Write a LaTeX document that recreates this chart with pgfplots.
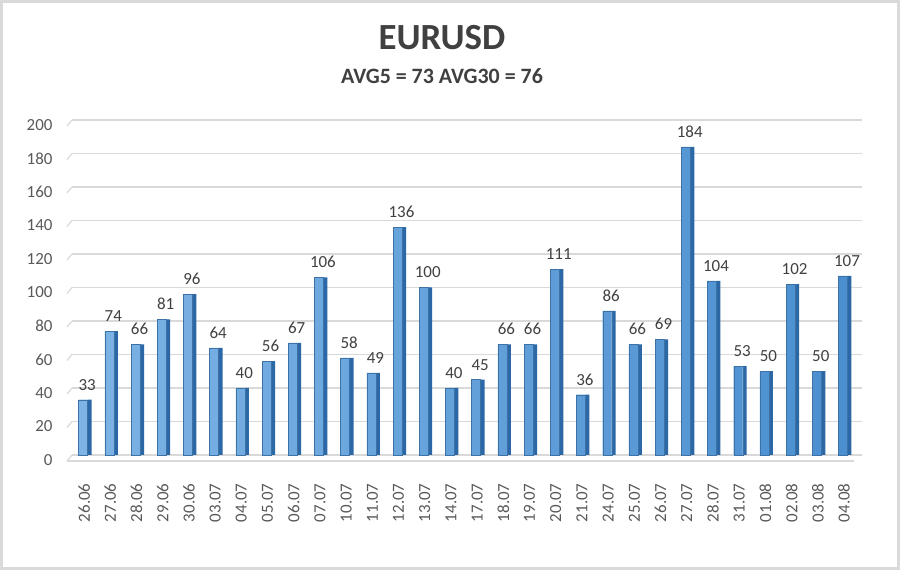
\documentclass[border=0pt]{standalone}
\usepackage{pgfplots}
\pgfplotsset{compat=1.18}
\usepackage{fontspec}
\setmainfont{Carlito}

\definecolor{txtdark}{HTML}{404040}
\definecolor{txtgray}{HTML}{595959}
\definecolor{gridc}{HTML}{D9D9D9}
\definecolor{barlight}{HTML}{7DB3E5}
\definecolor{barmid}{HTML}{4B8FD0}
\definecolor{barside}{HTML}{2C68A6}
\definecolor{frame}{HTML}{DADADA}

\pgfplotstableread{
idx val
0 33
1 74
2 66
3 81
4 96
5 64
6 40
7 56
8 67
9 106
10 58
11 49
12 136
13 100
14 40
15 45
16 66
17 66
18 111
19 36
20 86
21 66
22 69
23 184
24 104
25 53
26 50
27 102
28 50
29 107
}\eurusd

\begin{document}
\begin{tikzpicture}[x=1bp,y=1bp]
  \path[use as bounding box] (0,0) rectangle (900,570);
  \fill[white] (0,0) rectangle (900,570);
  \draw[frame, line width=3bp] (1.5,1.5) rectangle (898.5,568.5);

  \node[font=\fontsize{37}{40}\selectfont\bfseries, text=txtdark, anchor=base] at (442,520) {EURUSD};
  \node[font=\fontsize{22}{24}\selectfont\bfseries, text=txtdark, anchor=base] at (442,486) {AVG5 = 73 AVG30 = 76};

  \begin{axis}[
    at={(72bp,115bp)}, anchor=south west,
    scale only axis, width=790bp, height=335bp,
    xmin=-0.5, xmax=29.65, ymin=0, ymax=200,
    axis line style={draw=none},
    tick style={draw=none},
    ymajorgrids=true,
    grid style={gridc, line width=1.2bp},
    ytick={0,20,...,200},
    xtick={0,...,29},
    xticklabels={26.06,27.06,28.06,29.06,30.06,03.07,04.07,05.07,06.07,07.07,10.07,11.07,12.07,13.07,14.07,17.07,18.07,19.07,20.07,21.07,24.07,25.07,26.07,27.07,28.07,31.07,01.08,02.08,03.08,04.08},
    major tick length=0pt,
    /pgf/number format/assume math mode=true,
    tick label style={font=\fontsize{17}{19}\selectfont, text=txtgray},
    yticklabel style={xshift=-16bp, yshift=-5bp},
    xticklabel style={rotate=90, anchor=east, xshift=-25bp, yshift=1bp},
    clip=false,
  ]
    % slanted front edge of the grid lines and the floor
    \pgfplotsinvokeforeach{0,20,...,200}{
      \draw[gridc, line width=1.2bp] (axis cs:-0.5,#1) -- ++(-5bp,-6bp);
    }
    \draw[gridc, line width=1.2bp] ([shift={(-5bp,-6bp)}]axis cs:-0.5,0) -- ([shift={(-8bp,-6bp)}]axis cs:29.65,0);
    % side face of the bars
    \addplot[ybar, bar width=4bp, bar shift=4.5bp, fill=barside, draw=none]
      table[x=idx, y=val] {\eurusd};
    % front face of the bars, with the value above each
    \addplot[ybar, bar width=9bp, bar shift=-2bp, left color=barlight, right color=barmid,
      draw=barmid!80!black, line width=0.3bp,
      nodes near coords,
      every node near coord/.append style={font=\fontsize{17}{19}\selectfont, text=txtdark, xshift=2bp, yshift=6bp}]
      table[x=idx, y=val] {\eurusd};
  \end{axis}
\end{tikzpicture}
\end{document}
